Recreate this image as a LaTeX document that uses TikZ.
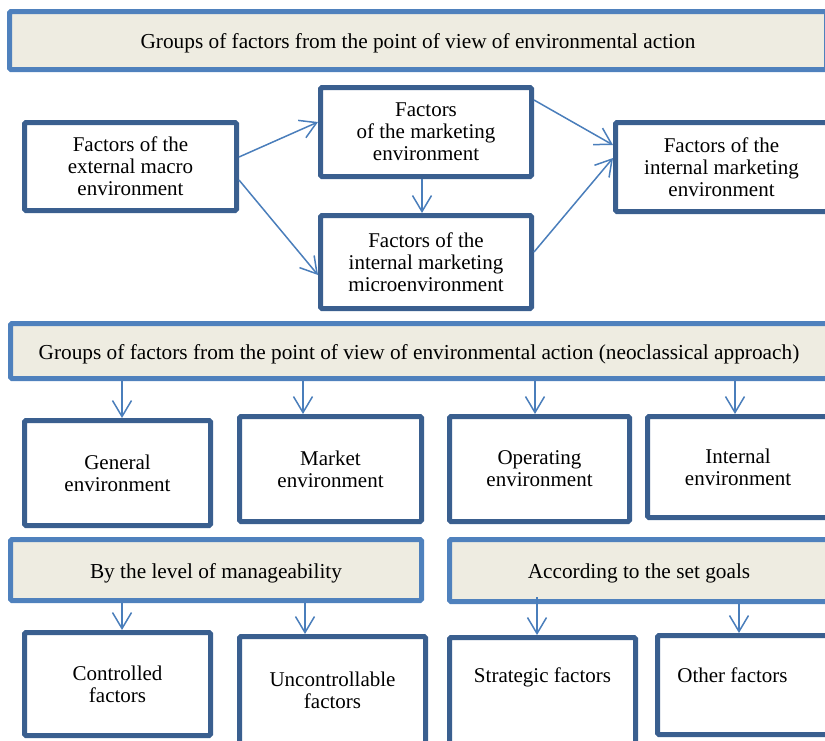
\documentclass[tikz,border=0pt]{standalone}
\usepackage{fontspec}
\setmainfont{Liberation Serif}
\usepackage{tikz}
\usetikzlibrary{arrows.meta}
\definecolor{bannerfill}{HTML}{EEECE1}
\definecolor{bannerline}{HTML}{4F81BD}
\definecolor{boxline}{HTML}{3A5F8F}
\definecolor{arrowline}{HTML}{4A7EBB}
\tikzstyle{banner} = [rectangle, draw=bannerline, fill=bannerfill,
    line width=5pt, rounded corners=1.5pt, inner sep=0pt, align=center,
    text height=17pt, text depth=1pt,
    font=\fontsize{21.3}{22}\selectfont]
\tikzstyle{factor} = [rectangle, draw=boxline, fill=white,
    line width=5pt, rounded corners=1.5pt, inner sep=0pt, align=center,
    font=\fontsize{21}{22}\selectfont]
\tikzstyle{boxtext} = [inner sep=0pt, align=center,
    font=\fontsize{21}{22}\selectfont]
\tikzstyle{flow} = [->, draw=arrowline, line width=1.5pt]
\tikzset{>={Straight Barb[length=16pt,width=19pt]}}

\begin{document}
\begin{tikzpicture}[x=1pt,y=-1pt]
\useasboundingbox (0,0) rectangle (825,740);
\clip (0,0) rectangle (825,740);
\begin{scope}
    %top banner and first group
    \node[banner, minimum width=817, minimum height=58] (top) at (418,40.5)
        {Groups of factors from the point of view of environmental action};
    \node[factor, minimum width=212, minimum height=88] (macro) at (130.5,166.5)
        {Factors of the\\external macro\\environment};
    \node[factor, minimum width=211, minimum height=89] (mkt) at (426,132)
        {Factors\\of the marketing\\environment};
    \node[factor, minimum width=211, minimum height=93] (micro) at (426,262)
        {Factors of the\\internal marketing\\microenvironment};
    \node[factor, minimum width=212, minimum height=89] (intmkt) at (721.5,167)
        {Factors of the\\internal marketing\\environment};
    %neoclassical banner and boxes
    \node[banner, minimum width=817, minimum height=55] (neo) at (419,351)
        {Groups of factors from the point of view of environmental action (neoclassical approach)};
    \node[factor, minimum width=186, minimum height=105] (gen) at (117.5,473)
        {General\\environment};
    \node[factor, minimum width=182, minimum height=105] (market) at (330.5,469)
        {Market\\environment};
    \node[factor, minimum width=180, minimum height=105] (oper) at (539.5,469)
        {Operating\\environment};
    \node[factor, minimum width=181, minimum height=101] (inter) at (738,467)
        {Internal\\environment};
    %manageability and goals
    \node[banner, minimum width=411, minimum height=61] (manage) at (216,570)
        {By the level of manageability};
    \node[banner, minimum width=379, minimum height=62] (goals) at (639,570.5)
        {According to the set goals};
    \node[factor, minimum width=186, minimum height=103] (ctrl) at (117.5,684)
        {Controlled\\factors};
    \node[factor, minimum width=186, minimum height=107] (unctrl) at (332.5,690)
        {Uncontrollable\\factors};
    \node[factor, minimum width=186, minimum height=122] (strat) at (542.5,698.5) {};
    \node[boxtext] (strattext) at (542.5,677) {Strategic factors};
    \node[factor, minimum width=183, minimum height=99] (other) at (749,685) {};
    \node[boxtext] (othertext) at (732.5,675) {Other factors};
    \coordinate (goalsstart) at (537,597);
    %arrows
    \draw[flow] (macro.east |- 0,157) -- (mkt.west |- 0,122);
    \draw[flow] (macro.east |- 0,180) -- (micro.west |- 0,275);
    \draw[flow] (mkt.south -| 422,0) -- (micro.north -| 422,0);
    \draw[flow] (mkt.east |- 0,100) -- (intmkt.west |- 0,145);
    \draw[flow] (micro.east |- 0,252) -- (intmkt.west |- 0,158);
    \draw[flow] (neo.south -| 122,0) -- (gen.north -| 122,0);
    \draw[flow] (neo.south -| 303,0) -- (market.north -| 303,0);
    \draw[flow] (neo.south -| 535,0) -- (oper.north -| 535,0);
    \draw[flow] (neo.south -| 735,0) -- (inter.north -| 735,0);
    \draw[flow] (manage.south -| 122,0) -- (ctrl.north -| 122,0);
    \draw[flow] (manage.south -| 305,0) -- (unctrl.north -| 305,0);
    \draw[flow] (goalsstart) -- (strat.north -| goalsstart);
    \draw[flow] (goals.south -| 739,0) -- (other.north -| 739,0);
\end{scope}
\end{tikzpicture}
\end{document}
